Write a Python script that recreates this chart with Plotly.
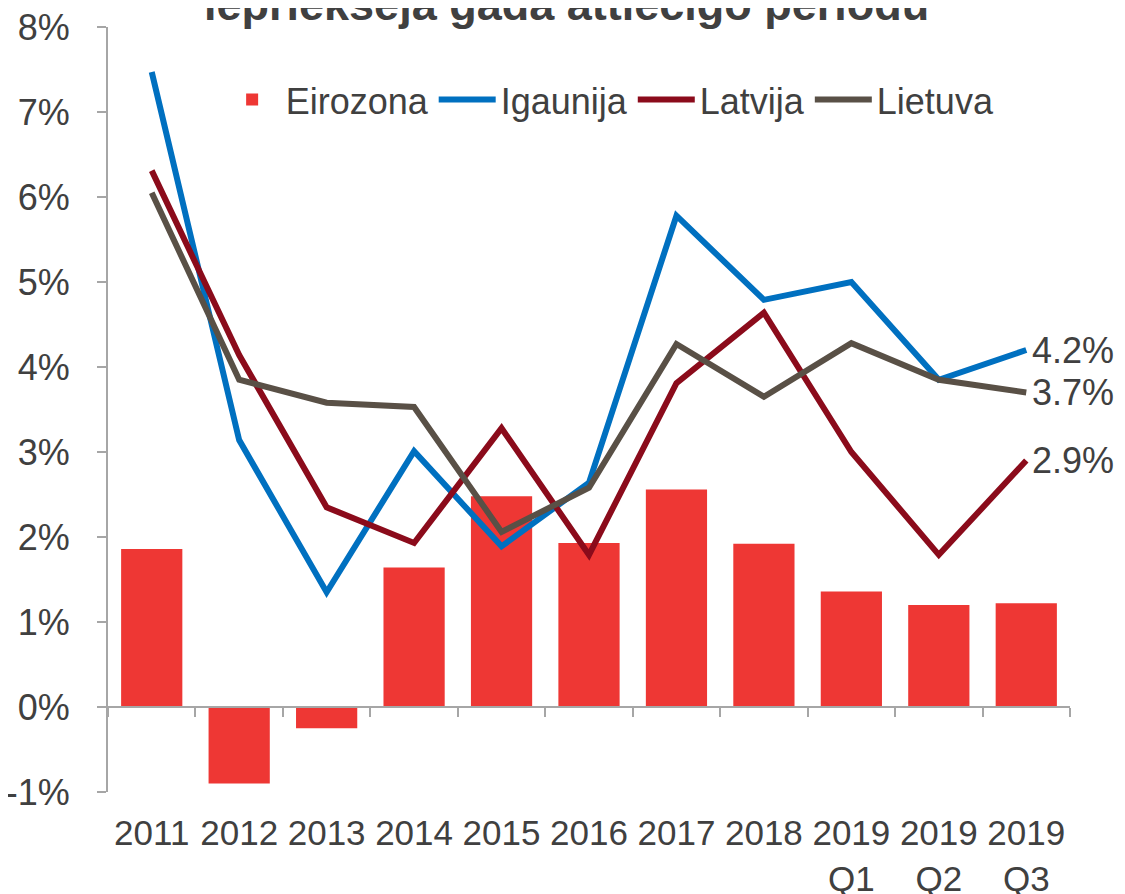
import plotly.graph_objects as go

# Kategorijas un vērtības (%)
kategorijas = ['2011', '2012', '2013', '2014', '2015', '2016', '2017', '2018',
               '2019<br>Q1', '2019<br>Q2', '2019<br>Q3']
eirozona = [1.86, -0.90, -0.25, 1.64, 2.48, 1.93, 2.56, 1.92, 1.36, 1.20, 1.22]
igaunija = [7.47, 3.14, 1.35, 3.01, 1.89, 2.64, 5.78, 4.79, 5.00, 3.85, 4.20]
latvija = [6.31, 4.14, 2.35, 1.93, 3.28, 1.79, 3.81, 4.64, 3.00, 1.79, 2.90]
lietuva = [6.05, 3.85, 3.58, 3.53, 2.06, 2.58, 4.27, 3.65, 4.28, 3.85, 3.70]

y_ticks = [-1, 0, 1, 2, 3, 4, 5, 6, 7, 8]
y_labels = ['-1%', '0%', '1%', '2%', '3%', '4%', '5%', '6%', '7%', '8%']

TEXT = '#404040'
FONT = 'Liberation Sans, Arial, sans-serif'

fig = go.Figure()

fig.add_trace(go.Bar(
    x=kategorijas, y=eirozona, name='Eirozona',
    marker=dict(color='#EE3734', line=dict(width=0))
))

line_series = [
    ('Igaunija', igaunija, '#0070C0'),
    ('Latvija', latvija, '#8B0B1B'),
    ('Lietuva', lietuva, '#595046'),
]
for name, vals, color in line_series:
    fig.add_trace(go.Scatter(
        x=kategorijas, y=vals, name=name, mode='lines',
        line=dict(color=color, width=6)
    ))

# pēdējo vērtību paraksti
for name, vals, color in line_series:
    fig.add_annotation(
        x=kategorijas[-1], y=vals[-1], xref='x', yref='y',
        text=f'{vals[-1]:.1f}%', showarrow=False,
        xanchor='left', yanchor='middle', xshift=4,
        font=dict(family=FONT, size=36, color=TEXT)
    )

# virsraksts (augšdaļa ārpus attēla)
fig.add_annotation(
    x=0.477, y=1, xref='paper', yref='paper',
    text='<b>iepriekšējā gada attiecīgo periodu</b>', showarrow=False,
    xanchor='center', yanchor='bottom', yshift=-5,
    font=dict(family=FONT, size=45, color=TEXT)
)

fig.update_layout(
    width=1125, height=894,
    margin=dict(l=100, r=63, t=19, b=110),
    paper_bgcolor='white', plot_bgcolor='white',
    font=dict(family=FONT, size=36, color=TEXT),
    bargap=0.3,
    showlegend=True,
    legend=dict(
        orientation='h', x=0.115, y=0.905, xanchor='left', yanchor='middle',
        font=dict(family=FONT, size=36, color=TEXT),
        itemwidth=57, bgcolor='rgba(0,0,0,0)',
        tracegroupgap=0
    ),
)

fig.update_xaxes(
    type='category', automargin=False, range=[-0.5, len(kategorijas) - 0.5],
    anchor='free', position=1 / 9,
    showline=True, linecolor='#A6A6A6', linewidth=2,
    ticks='outside', tickson='boundaries', ticklen=9, tickcolor='#A6A6A6', tickwidth=2,
    showgrid=False, zeroline=False, tickangle=0,
    tickfont=dict(family=FONT, size=35, color=TEXT),
    ticklabelstandoff=95, ticklabeloverflow='allow'
)

fig.update_yaxes(
    range=[-1, 8], automargin=False,
    tickvals=y_ticks, ticktext=y_labels,
    showline=True, linecolor='#A6A6A6', linewidth=2,
    ticks='outside', ticklen=9, tickcolor='#A6A6A6', tickwidth=2,
    showgrid=False, zeroline=False,
    tickfont=dict(family=FONT, size=36, color=TEXT),
    ticklabelstandoff=20, ticklabeloverflow='allow'
)

fig.write_html('out.html')
